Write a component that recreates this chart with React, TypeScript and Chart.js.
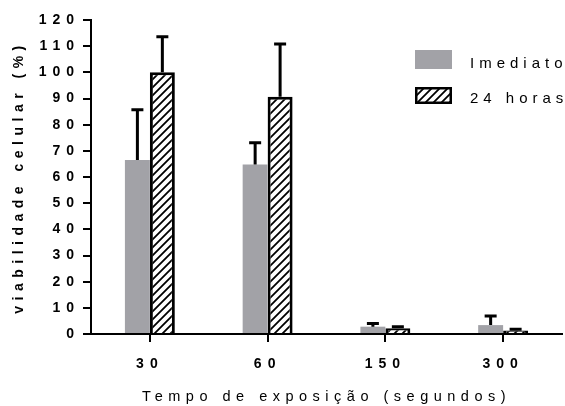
import React, { useEffect, useRef } from 'react';
import { Chart, registerables } from 'chart.js';

Chart.register(...registerables);

// ---- data ----
const categories = ['30', '60', '150', '300'];
const seriesLabels = ['Imediato', '24 horas'];
const imediato = [66.5, 64.8, 2.8, 3.4];
const imediatoErr = [19.2, 8.3, 1.2, 3.5];
const horas24 = [100, 90.7, 2.2, 1.3];
const horas24Err = [13.6, 20.1, 0.6, 0.5];
const yMin = 0;
const yMax = 120;
const yStep = 10;
const xTitle = 'Tempo de exposição (segundos)';
const yTitle = 'viabilidade celular (%)';

// ---- style ----
const FONT = "'Liberation Sans', Arial, Helvetica, sans-serif";
const GRAY = '#a2a2a7';
const TITLE_SPACING = '5.5px';
const TICK_SPACING = '6px';
const LEGEND_SPACING = '5px';

function makeHatch(): CanvasPattern | string {
  const c = document.createElement('canvas');
  c.width = 8;
  c.height = 8;
  const g = c.getContext('2d');
  if (!g) return '#fff';
  g.fillStyle = '#fff';
  g.fillRect(0, 0, 8, 8);
  g.strokeStyle = '#000';
  g.lineWidth = 1.8;
  g.beginPath();
  g.moveTo(0, 8);
  g.lineTo(8, 0);
  g.moveTo(-2, 2);
  g.lineTo(2, -2);
  g.moveTo(6, 10);
  g.lineTo(10, 6);
  g.stroke();
  return g.createPattern(c, 'repeat') || '#fff';
}

const spacingPlugin = {
  id: 'letterSpacing',
  beforeUpdate(chart: any) {
    (chart.ctx as any).letterSpacing = TICK_SPACING;
  },
  beforeLayout(chart: any) {
    (chart.ctx as any).letterSpacing = TICK_SPACING;
  },
  // titles are drawn in the grid layer (before datasets)
  beforeDraw(chart: any) {
    (chart.ctx as any).letterSpacing = TITLE_SPACING;
  },
  // tick labels are drawn in a layer after the datasets (ticks.z = 1)
  afterDatasetsDraw(chart: any) {
    (chart.ctx as any).letterSpacing = TICK_SPACING;
  },
};

const errorBarPlugin = {
  id: 'errorBars',
  afterDatasetsDraw(chart: any) {
    const ctx = chart.ctx as CanvasRenderingContext2D;
    const yScale = chart.scales.y;
    const errs = [imediatoErr, horas24Err];
    ctx.save();
    ctx.strokeStyle = '#000';
    ctx.lineWidth = 3;
    ctx.lineCap = 'butt';
    chart.data.datasets.forEach((ds: any, di: number) => {
      const meta = chart.getDatasetMeta(di);
      meta.data.forEach((bar: any, i: number) => {
        const v = ds.data[i] as number;
        const e = errs[di][i];
        const x = bar.x;
        const y0 = yScale.getPixelForValue(v);
        const y1 = yScale.getPixelForValue(v + e);
        ctx.beginPath();
        ctx.moveTo(x, y0);
        ctx.lineTo(x, y1);
        ctx.moveTo(x - 6, y1);
        ctx.lineTo(x + 6, y1);
        ctx.stroke();
      });
    });
    ctx.restore();
  },
};

const legendPlugin = {
  id: 'sideLegend',
  afterDraw(chart: any) {
    const ctx = chart.ctx as any;
    const area = chart.chartArea;
    const left = area.right - 147;
    const top = area.top + 30;
    ctx.save();
    ctx.letterSpacing = LEGEND_SPACING;
    ctx.font = `15px ${FONT}`;
    ctx.textBaseline = 'alphabetic';
    ctx.textAlign = 'left';
    ctx.fillStyle = '#000';
    chart.data.datasets.forEach((ds: any, i: number) => {
      const boxTop = top + i * 37;
      const h = i === 0 ? 19 : 17;
      ctx.fillStyle = ds.backgroundColor;
      ctx.fillRect(left, boxTop, 37, h);
      if (ds.borderWidth) {
        ctx.strokeStyle = '#000';
        ctx.lineWidth = 2.5;
        ctx.strokeRect(left + 1.25, boxTop + 1.25, 37 - 2.5, h - 2.5);
      }
      ctx.fillStyle = '#000';
      ctx.fillText(ds.label, left + 55, top + 18 + i * 35);
    });
    ctx.restore();
  },
};

export default function App() {
  const ref = useRef<HTMLCanvasElement>(null);
  useEffect(() => {
    if (!ref.current) return;
    const hatch = makeHatch();
    const chart = new Chart(ref.current, {
      type: 'bar',
      data: {
        labels: categories,
        datasets: [
          {
            label: seriesLabels[0],
            data: imediato,
            backgroundColor: GRAY,
            borderWidth: 0,
            categoryPercentage: 0.424,
            barPercentage: 1,
          },
          {
            label: seriesLabels[1],
            data: horas24,
            backgroundColor: hatch as any,
            borderColor: '#000',
            borderWidth: 3,
            borderSkipped: 'start',
            categoryPercentage: 0.424,
            barPercentage: 1,
          },
        ],
      },
      options: {
        animation: false,
        responsive: true,
        maintainAspectRatio: false,
        layout: { padding: { top: 20, right: 3, left: 0, bottom: 0 } },
        plugins: {
          legend: { display: false },
          tooltip: { enabled: false },
        },
        scales: {
          x: {
            offset: true,
            grid: {
              offset: false,
              drawOnChartArea: false,
              drawTicks: true,
              tickLength: 8,
              color: '#000',
              lineWidth: 2,
            },
            border: { display: true, color: '#000', width: 2 },
            ticks: {
              z: 1,
              color: '#000',
              font: { family: FONT, size: 14, weight: 'bold' },
              padding: 14,
              maxRotation: 0,
              autoSkip: false,
            },
            title: {
              display: true,
              text: xTitle,
              color: '#000',
              font: { family: FONT, size: 14.5 },
              padding: { top: 0, bottom: 0 },
            },
            afterFit: (s: any) => {
              s.height = 72;
            },
          },
          y: {
            min: yMin,
            max: yMax,
            grid: {
              drawOnChartArea: false,
              drawTicks: true,
              tickLength: 8,
              color: '#000',
              lineWidth: 2,
            },
            border: { display: true, color: '#000', width: 2 },
            ticks: {
              z: 1,
              stepSize: yStep,
              color: '#000',
              font: { family: FONT, size: 14, weight: 'bold' },
              padding: 3,
            },
            title: {
              display: true,
              text: yTitle,
              color: '#000',
              font: { family: FONT, size: 14, weight: 'bold' },
              padding: { top: 11, bottom: 0 },
            },
            afterFit: (s: any) => {
              s.width = 91;
            },
          },
        },
      },
      plugins: [spacingPlugin, errorBarPlugin, legendPlugin],
    } as any);
    return () => chart.destroy();
  }, []);
  return (
    <div
      style={{
        position: 'fixed',
        left: 0,
        top: 0,
        width: 565,
        height: 406,
        background: '#fff',
      }}
    >
      <canvas ref={ref} />
    </div>
  );
}
